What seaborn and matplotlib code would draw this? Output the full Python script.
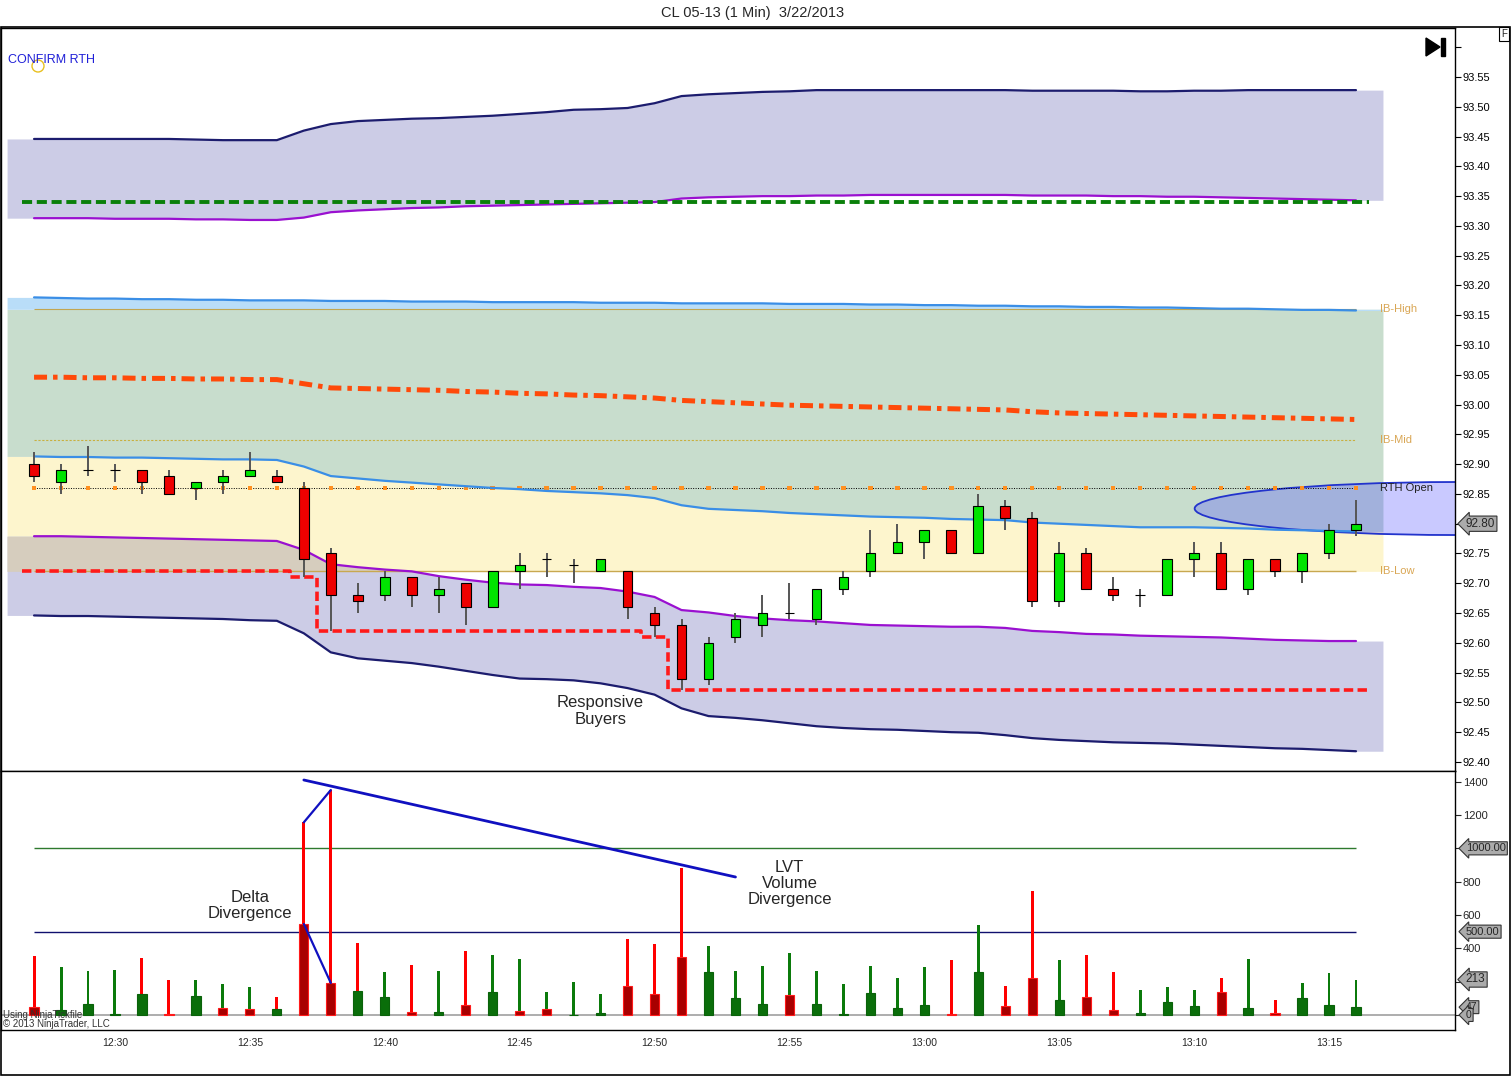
import numpy as np
import pandas as pd
import matplotlib.pyplot as plt
import matplotlib.patches as mpatches
import matplotlib.transforms as mtransforms
import seaborn as sns

W, H = 1512, 1076

# ---- price bars (1 min, 12:27 .. 13:16) ----
opens = [92.90, 92.87, 92.89, 92.89, 92.89, 92.88, 92.86, 92.87, 92.88, 92.88,
         92.86, 92.75, 92.68, 92.68, 92.71, 92.68, 92.70, 92.66, 92.72, 92.74,
         92.73, 92.72, 92.72, 92.65, 92.63, 92.54, 92.61, 92.63, 92.65, 92.64,
         92.69, 92.72, 92.75, 92.77, 92.79, 92.75, 92.83, 92.81, 92.67, 92.75,
         92.69, 92.68, 92.68, 92.74, 92.75, 92.69, 92.74, 92.72, 92.75, 92.79]
closes = [92.88, 92.89, 92.89, 92.89, 92.87, 92.85, 92.87, 92.88, 92.89, 92.87,
          92.74, 92.68, 92.67, 92.71, 92.68, 92.69, 92.66, 92.72, 92.73, 92.74,
          92.73, 92.74, 92.66, 92.63, 92.54, 92.60, 92.64, 92.65, 92.65, 92.69,
          92.71, 92.75, 92.77, 92.79, 92.75, 92.83, 92.81, 92.67, 92.75, 92.69,
          92.68, 92.68, 92.74, 92.75, 92.69, 92.74, 92.72, 92.75, 92.79, 92.80]
highs = [92.92, 92.90, 92.93, 92.90, 92.89, 92.89, 92.87, 92.89, 92.92, 92.89,
         92.87, 92.76, 92.70, 92.72, 92.71, 92.71, 92.70, 92.72, 92.75, 92.75,
         92.74, 92.74, 92.72, 92.66, 92.64, 92.61, 92.65, 92.68, 92.70, 92.69,
         92.72, 92.79, 92.80, 92.79, 92.79, 92.85, 92.84, 92.82, 92.77, 92.76,
         92.71, 92.69, 92.74, 92.77, 92.77, 92.74, 92.74, 92.75, 92.80, 92.84]
lows = [92.87, 92.85, 92.88, 92.87, 92.85, 92.85, 92.84, 92.85, 92.88, 92.87,
        92.71, 92.62, 92.65, 92.67, 92.66, 92.65, 92.63, 92.66, 92.69, 92.71,
        92.70, 92.72, 92.64, 92.61, 92.52, 92.53, 92.60, 92.61, 92.64, 92.63,
        92.68, 92.71, 92.75, 92.74, 92.75, 92.75, 92.79, 92.66, 92.66, 92.69,
        92.67, 92.66, 92.68, 92.71, 92.69, 92.68, 92.71, 92.70, 92.74, 92.78]

# ---- bands ----
navy_upper = [93.446, 93.446, 93.446, 93.446, 93.446, 93.446, 93.445, 93.444, 93.444, 93.444,
              93.460, 93.471, 93.476, 93.478, 93.480, 93.481, 93.483, 93.485, 93.488, 93.491,
              93.495, 93.496, 93.498, 93.506, 93.518, 93.521, 93.523, 93.525, 93.526, 93.528,
              93.528, 93.528, 93.528, 93.528, 93.528, 93.528, 93.528, 93.527, 93.527, 93.527,
              93.527, 93.526, 93.526, 93.527, 93.527, 93.528, 93.528, 93.528, 93.528, 93.528]
purple_upper = [93.313, 93.313, 93.313, 93.312, 93.312, 93.312, 93.311, 93.311, 93.310, 93.310,
                93.314, 93.323, 93.326, 93.328, 93.330, 93.331, 93.333, 93.334, 93.335, 93.336,
                93.337, 93.338, 93.339, 93.340, 93.346, 93.348, 93.349, 93.350, 93.350, 93.351,
                93.351, 93.352, 93.352, 93.352, 93.352, 93.352, 93.352, 93.351, 93.351, 93.351,
                93.350, 93.350, 93.349, 93.349, 93.348, 93.347, 93.346, 93.345, 93.344, 93.343]
blue_upper = [93.180, 93.179, 93.178, 93.178, 93.177, 93.177, 93.176, 93.176, 93.175, 93.175,
              93.175, 93.174, 93.174, 93.174, 93.173, 93.173, 93.173, 93.172, 93.172, 93.172,
              93.172, 93.171, 93.171, 93.171, 93.170, 93.170, 93.170, 93.170, 93.169, 93.169,
              93.169, 93.168, 93.168, 93.167, 93.167, 93.166, 93.166, 93.165, 93.165, 93.164,
              93.164, 93.163, 93.163, 93.162, 93.161, 93.161, 93.160, 93.159, 93.159, 93.158]
vwap = [93.046, 93.046, 93.045, 93.045, 93.044, 93.044, 93.043, 93.043, 93.042, 93.042,
        93.035, 93.028, 93.027, 93.026, 93.025, 93.024, 93.022, 93.021, 93.019, 93.018,
        93.016, 93.015, 93.013, 93.011, 93.007, 93.005, 93.003, 93.001, 92.999, 92.998,
        92.997, 92.996, 92.995, 92.994, 92.993, 92.992, 92.991, 92.988, 92.986, 92.985,
        92.984, 92.983, 92.982, 92.981, 92.980, 92.979, 92.978, 92.977, 92.976, 92.975]
blue_lower = [92.913, 92.912, 92.912, 92.911, 92.911, 92.910, 92.909, 92.908, 92.908, 92.907,
              92.896, 92.880, 92.876, 92.872, 92.869, 92.866, 92.863, 92.860, 92.858, 92.855,
              92.853, 92.851, 92.848, 92.843, 92.831, 92.825, 92.823, 92.821, 92.818, 92.816,
              92.814, 92.812, 92.811, 92.810, 92.808, 92.807, 92.806, 92.802, 92.800, 92.798,
              92.796, 92.794, 92.794, 92.794, 92.793, 92.792, 92.790, 92.789, 92.788, 92.787]
purple_lower = [92.779, 92.779, 92.778, 92.777, 92.776, 92.775, 92.774, 92.773, 92.772, 92.771,
                92.756, 92.732, 92.727, 92.723, 92.720, 92.712, 92.706, 92.701, 92.698, 92.697,
                92.694, 92.692, 92.686, 92.677, 92.655, 92.651, 92.645, 92.641, 92.638, 92.636,
                92.633, 92.630, 92.629, 92.628, 92.627, 92.627, 92.625, 92.620, 92.618, 92.615,
                92.614, 92.612, 92.611, 92.610, 92.609, 92.607, 92.605, 92.604, 92.603, 92.603]
navy_lower = [92.646, 92.645, 92.645, 92.644, 92.643, 92.642, 92.641, 92.640, 92.638, 92.637,
              92.616, 92.584, 92.574, 92.570, 92.566, 92.560, 92.553, 92.546, 92.540, 92.539,
              92.537, 92.532, 92.524, 92.513, 92.490, 92.477, 92.474, 92.470, 92.465, 92.460,
              92.457, 92.455, 92.454, 92.452, 92.450, 92.449, 92.445, 92.440, 92.437, 92.435,
              92.433, 92.432, 92.431, 92.429, 92.427, 92.425, 92.423, 92.422, 92.420, 92.418]
support = [92.72, 92.72, 92.72, 92.72, 92.72, 92.72, 92.72, 92.72, 92.72, 92.72,
           92.71, 92.62, 92.62, 92.62, 92.62, 92.62, 92.62, 92.62, 92.62, 92.62,
           92.62, 92.62, 92.62, 92.61, 92.52, 92.52, 92.52, 92.52, 92.52, 92.52,
           92.52, 92.52, 92.52, 92.52, 92.52, 92.52, 92.52, 92.52, 92.52, 92.52,
           92.52, 92.52, 92.52, 92.52, 92.52, 92.52, 92.52, 92.52, 92.52, 92.52]
upper_target = 93.34
ib_high, ib_mid, ib_low, rth_open = 93.16, 92.94, 92.72, 92.86
last_price = 92.80

# ---- volume / delta ----
volume = [354, 288, 264, 270, 342, 210, 210, 186, 168, 108,
          1156, 1350, 432, 258, 300, 264, 384, 360, 336, 138,
          198, 126, 456, 426, 882, 414, 264, 294, 372, 264,
          186, 294, 222, 288, 330, 540, 174, 744, 330, 360,
          258, 150, 168, 150, 222, 336, 90, 192, 252, 213]
delta = [-48, 30, 66, 6, 126, -6, 114, -42, -36, 36,
         -546, -192, 144, 108, -18, 18, -60, 138, -24, -36,
         0, 12, -174, -126, -348, 258, 102, 66, -120, 66,
         6, 132, 42, 60, -6, 258, -54, -222, 90, -108,
         -30, 12, 78, 54, -138, 42, -12, 102, 60, 47]
lvt_x = [10, 26]
lvt_v = [1410, 828]

tick_bars = [3, 8, 13, 18, 23, 28, 33, 38, 43, 48]
tick_labels = ['12:30', '12:35', '12:40', '12:45', '12:50',
               '12:55', '13:00', '13:05', '13:10', '13:15']

bars = np.arange(len(opens))

sns.set_style('white')
plt.rcParams['font.family'] = ['Liberation Sans', 'DejaVu Sans']

fig = plt.figure(figsize=(W / 100, H / 100), dpi=100)
ax = fig.add_axes([1 / W, 1 - 771 / H, 1454 / W, 743 / H])
ax2 = fig.add_axes([1 / W, 1 - 1030 / H, 1454 / W, 259 / H])

LAV = '#CCCCE6'
GRN = '#C8DDCD'
LBLUE = '#B9DDF8'
YEL = '#FDF5CD'
TAN = '#D6CDBE'


def ext(a):
    a = np.asarray(a, dtype=float)
    return np.r_[a[0], a, a[-1]]


xf = np.r_[-1, bars, len(bars)]
pl, nl = ext(purple_lower), ext(navy_lower)
ax.fill_between(xf, ib_low, ext(blue_lower), color=YEL, lw=0, zorder=1)
ax.fill_between(xf, nl, pl, color=LAV, lw=0, zorder=1.1)
ax.fill_between(xf, np.maximum(nl, ib_low), pl, where=pl > ib_low, interpolate=True,
                color=TAN, lw=0, zorder=1.2)
ax.fill_between(xf, ext(blue_lower), ib_high, color=GRN, lw=0, zorder=1)
ax.fill_between(xf, ib_high, ext(blue_upper), color=LBLUE, lw=0, zorder=1)
ax.fill_between(xf, ext(purple_upper), ext(navy_upper), color=LAV, lw=0, zorder=1)

# ellipse marking the RTH open retest
ell = mpatches.Ellipse((52.67, 92.8255), 19.3, 0.089, fc=(0.3, 0.3, 1.0, 0.3),
                       ec='#2233CC', lw=1.3, zorder=1.5)
ax.add_patch(ell)
ell.set_clip_on(True)
ell.set_clip_path(ax.patch)

# IB / RTH levels
ax.hlines(ib_high, 0, 49, colors='#C2A650', lw=0.8, zorder=2)
ax.hlines(ib_mid, 0, 49, colors='#C8B040', lw=0.8, linestyles=(0, (2, 1.5)), zorder=2)
ax.hlines(ib_low, 0, 49, colors='#C8A850', lw=1.0, zorder=2)
ax.hlines(rth_open, 0, 49, colors='black', lw=0.7, linestyles=(0, (1, 1.5)), zorder=2)
sns.scatterplot(x=bars, y=[rth_open] * len(bars), marker='s', s=10, color='#FF9020',
                edgecolor='none', ax=ax, zorder=3)

# bands
for vals, col in [(navy_upper, '#1C1C6E'), (purple_upper, '#9A10D0'),
                  (blue_upper, '#3A8EE6'), (blue_lower, '#3A8EE6'),
                  (purple_lower, '#9A10D0'), (navy_lower, '#1C1C6E')]:
    sns.lineplot(x=bars, y=vals, ax=ax, color=col, lw=1.6, zorder=3)

ax.plot(bars, vwap, color='#FF4A0A', lw=3.6, dashes=(2.6, 1.2, 0.9, 1.2), zorder=3)
ax.hlines(upper_target, -0.45, 49.5, colors='#0A800A', lw=2.8,
          linestyles=(0, (2.6, 1.2)), zorder=3)
ax.step(np.r_[-0.45, bars, 49.5], ext(support), where='mid', color='#FF1A1A', lw=2.6,
        dashes=(2.6, 1.2), zorder=3)

# candles
up = [c >= o for o, c in zip(opens, closes)]
ax.vlines(bars, lows, highs, colors='#555555', lw=1.4, zorder=4)
body_lo = np.minimum(opens, closes)
body_h = np.abs(np.array(closes) - np.array(opens))
ax.bar(bars, body_h, bottom=body_lo, width=0.36,
       color=['#00E400' if u else '#EE0000' for u in up],
       edgecolor='black', lw=0.8, zorder=5)

# labels in price panel
for y, s, col in [(ib_high, 'IB-High', '#D9A654'), (ib_mid, 'IB-Mid', '#D9A654'),
                  (rth_open, 'RTH Open', '#222222'), (ib_low, 'IB-Low', '#D9A654')]:
    ax.text(49.9, y, s, ha='left', va='center', fontsize=8, color=col, zorder=7)
ax.text(21.0, 92.4855, 'Responsive\nBuyers', ha='center', va='center',
        fontsize=12, linespacing=1.1, zorder=7)

# ---- volume panel ----
thin_col = ['#0B7A0B' if u else '#FF0000' for u in up]
ax2.bar(bars, volume, width=0.11, color=thin_col, lw=0, zorder=3)
dabs = np.abs(delta)
ax2.bar(bars, dabs, width=0.34,
        color=['#0A6E0A' if d >= 0 else '#A80000' for d in delta],
        edgecolor=['#0A620A' if d >= 0 else '#FF1A1A' for d in delta],
        lw=0.8, zorder=4)
ax2.axhline(0, color='#A0A0A0', lw=1.2, zorder=2)
ax2.hlines(1000, 0, 49, colors='#2E7A2E', lw=1.0, zorder=2)
ax2.hlines(500, 0, 49, colors='#10106E', lw=1.0, zorder=2)
ax2.plot(lvt_x, lvt_v, color='#1010C0', lw=2.0, zorder=6)
ax2.plot([10, 11], [volume[10], volume[11]], color='#1010C0', lw=1.6, zorder=6)
ax2.plot([10, 11], [dabs[10], dabs[11]], color='#1010C0', lw=1.6, zorder=6)
ax2.text(8.0, 657, 'Delta\nDivergence', ha='center', va='center', fontsize=12,
         linespacing=1.1, zorder=7)
ax2.text(28.0, 789, 'LVT\nVolume\nDivergence', ha='center', va='center', fontsize=12,
         linespacing=1.1, zorder=7)

# ---- axes formatting ----
ax.set_xlim(-1.225, 52.67)
ax2.set_xlim(-1.225, 52.67)
ax.set_ylim(92.3848, 93.6323)
ax2.set_ylim(-90, 1464)

pt = [round(92.40 + 0.05 * k, 2) for k in range(25)]
ax.set_yticks(pt)
ax.set_yticklabels([f'{t:.2f}' if (t < 93.58 and t != last_price) else '' for t in pt])
ax.yaxis.tick_right()
ax.tick_params(axis='y', direction='out', length=4, width=0.8, pad=1.5,
               labelsize=8, colors='black')
ax.tick_params(axis='x', bottom=False, labelbottom=False)

vt = [0, 200, 400, 600, 800, 1000, 1200, 1400]
ax2.set_yticks(vt)
ax2.set_yticklabels(['', '', '400', '600', '800', '', '1200', '1400'])
ax2.yaxis.tick_right()
ax2.tick_params(axis='y', direction='out', length=4, width=0.8, pad=1.5, labelsize=8)
ax2.set_xticks(tick_bars)
ax2.set_xticklabels(tick_labels)
ax2.tick_params(axis='x', length=0, pad=6, labelsize=7.5)

for a in (ax, ax2):
    a.set_xlabel('')
    a.set_ylabel('')
    for sp in a.spines.values():
        sp.set_color('black')
        sp.set_linewidth(1.0)
        sp.set_visible(True)


def tag(axis, y, s, fs=8.5):
    tr = mtransforms.blended_transform_factory(axis.transAxes, axis.transData)
    axis.text(1.0075, y, s, transform=tr, ha='left', va='center', fontsize=fs,
              bbox=dict(boxstyle='larrow,pad=0.14', fc='#ABABAB', ec='#333333', lw=0.8),
              zorder=10, clip_on=False)


tag(ax, last_price, f'{last_price:.2f}')
tag(ax2, 1000, '1000.00', fs=8)
tag(ax2, 500, '500.00', fs=8)
tag(ax2, volume[-1], str(volume[-1]))
tag(ax2, delta[-1], str(delta[-1]), fs=7.5)
tag(ax2, 0, '0', fs=7.5)

# ---- figure decorations ----
fig.patches.append(mpatches.Rectangle((1 / W, 1 - 1075 / H), 1509 / W, 1048 / H,
                                      transform=fig.transFigure, fill=False,
                                      ec='black', lw=1.2))
fig.text(753 / W, 1 - 13 / H, 'CL 05-13 (1 Min)  3/22/2013', ha='center', va='center',
         fontsize=10.5)
fig.text(8 / W, 1 - 60 / H, 'CONFIRM RTH', ha='left', va='center', fontsize=9,
         color='#2020D8')
fig.patches.append(mpatches.Ellipse((38 / W, 1 - 66 / H), 12 / W, 12 / H,
                                    transform=fig.transFigure,
                                    fill=False, ec='#E8C020', lw=1.0))
fig.patches.append(mpatches.Polygon([(1426 / W, 1 - 38 / H), (1426 / W, 1 - 56 / H),
                                     (1440 / W, 1 - 47 / H)], closed=True,
                                    transform=fig.transFigure, fc='black', ec='black'))
fig.patches.append(mpatches.Rectangle((1441 / W, 1 - 56 / H), 4 / W, 18 / H,
                                      transform=fig.transFigure, fc='black', ec='black'))
fig.text(1504 / W, 1 - 34 / H, 'F', ha='center', va='center', fontsize=7,
         bbox=dict(boxstyle='square,pad=0.2', fc='white', ec='black', lw=0.8))
fig.text(3 / W, 1 - 1015 / H, 'Using NinjaTickfile', ha='left', va='center',
         fontsize=7, color='#333333')
fig.text(3 / W, 1 - 1024 / H, '\u00a9 2013 NinjaTrader, LLC', ha='left', va='center',
         fontsize=7, color='#333333')

fig.savefig('out.png', dpi=100)
